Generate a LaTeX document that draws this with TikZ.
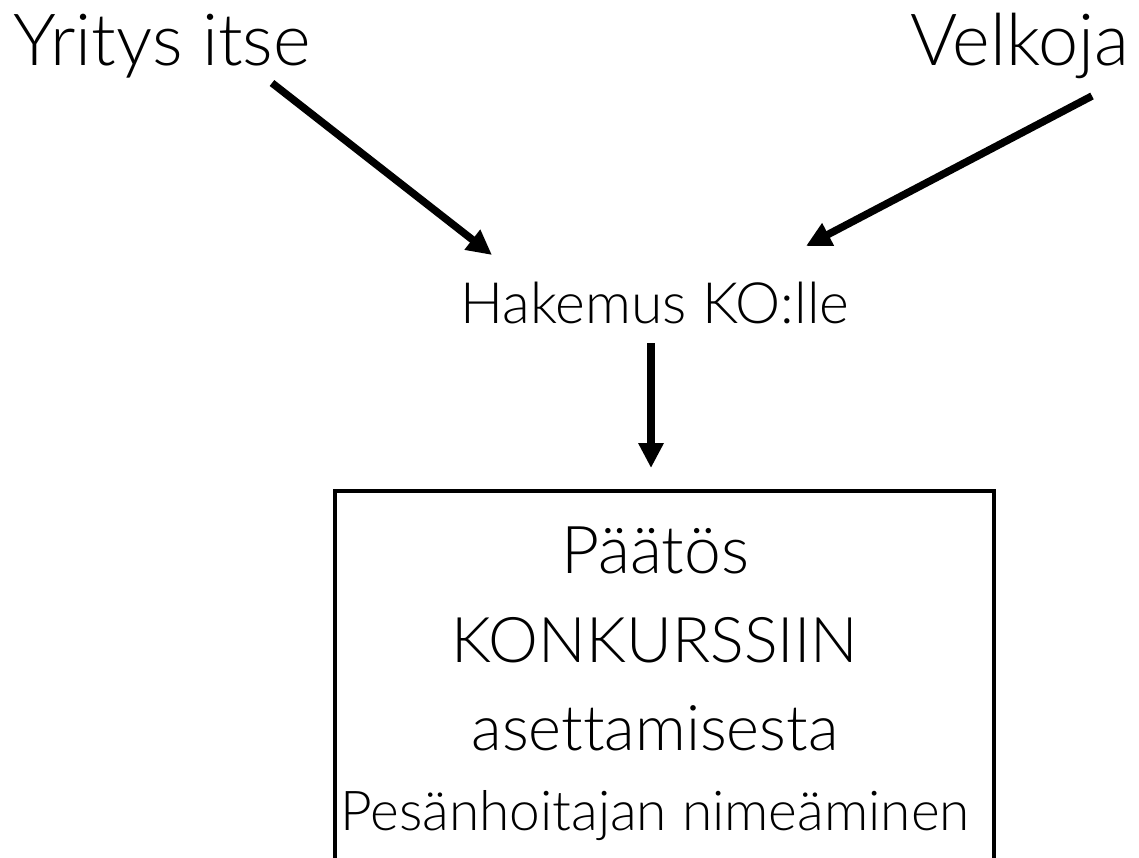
\documentclass[tikz,border=0pt]{standalone}
\usepackage{fontspec}
\setmainfont{Lato}[UprightFont=* Light, Ligatures=NoCommon]
\usetikzlibrary{arrows.meta}
\tikzset{
  txt/.style={inner sep=0pt, anchor=base, font=#1},
  arr/.style={line width=7.5pt, -{Triangle[length=25pt,width=24pt]}},
  box/.style={draw, line width=3.5pt}
}
\begin{document}
\begin{tikzpicture}[x=1pt,y=-1pt]
\useasboundingbox (0,0) rectangle (1139,857);
\clip (0,0) rectangle (1139,857);
\node[txt={\fontsize{72}{80}\selectfont}] (yritys) at (162,65) {Yritys itse};
\node[txt={\fontsize{72}{80}\selectfont}] (velkoja) at (1020,65) {Velkoja};
\node[txt={\fontsize{57}{64}\selectfont}] (hakemus) at (655,323) {Hakemus KO:lle};
\node[box, minimum width=659pt, minimum height=420pt, anchor=north west] (paatos) at (333,489) {};
\node[txt={\fontsize{66}{72}\selectfont}] (l1) at (655,573) {Päätös};
\node[txt={\fontsize{63}{72}\selectfont}] (l2) at (655,662) {KONKURSSIIN};
\node[txt={\fontsize{63}{72}\selectfont}] (l3) at (655,750) {asettamisesta};
\node[txt={\fontsize{55}{64}\selectfont}] (l4) at (655,830) {Pesänhoitajan nimeäminen};
\coordinate (a1s) at (272,83);
\coordinate (a1e) at (492,255);
\coordinate (a2s) at (1092,96);
\coordinate (a2e) at (806,246);
\coordinate (a3s) at (651,343);
\coordinate (a3e) at (651,468);
\draw[arr] (a1s) -- (a1e);
\draw[arr] (a2s) -- (a2e);
\draw[arr] (a3s) -- (a3e);
\end{tikzpicture}
\end{document}
